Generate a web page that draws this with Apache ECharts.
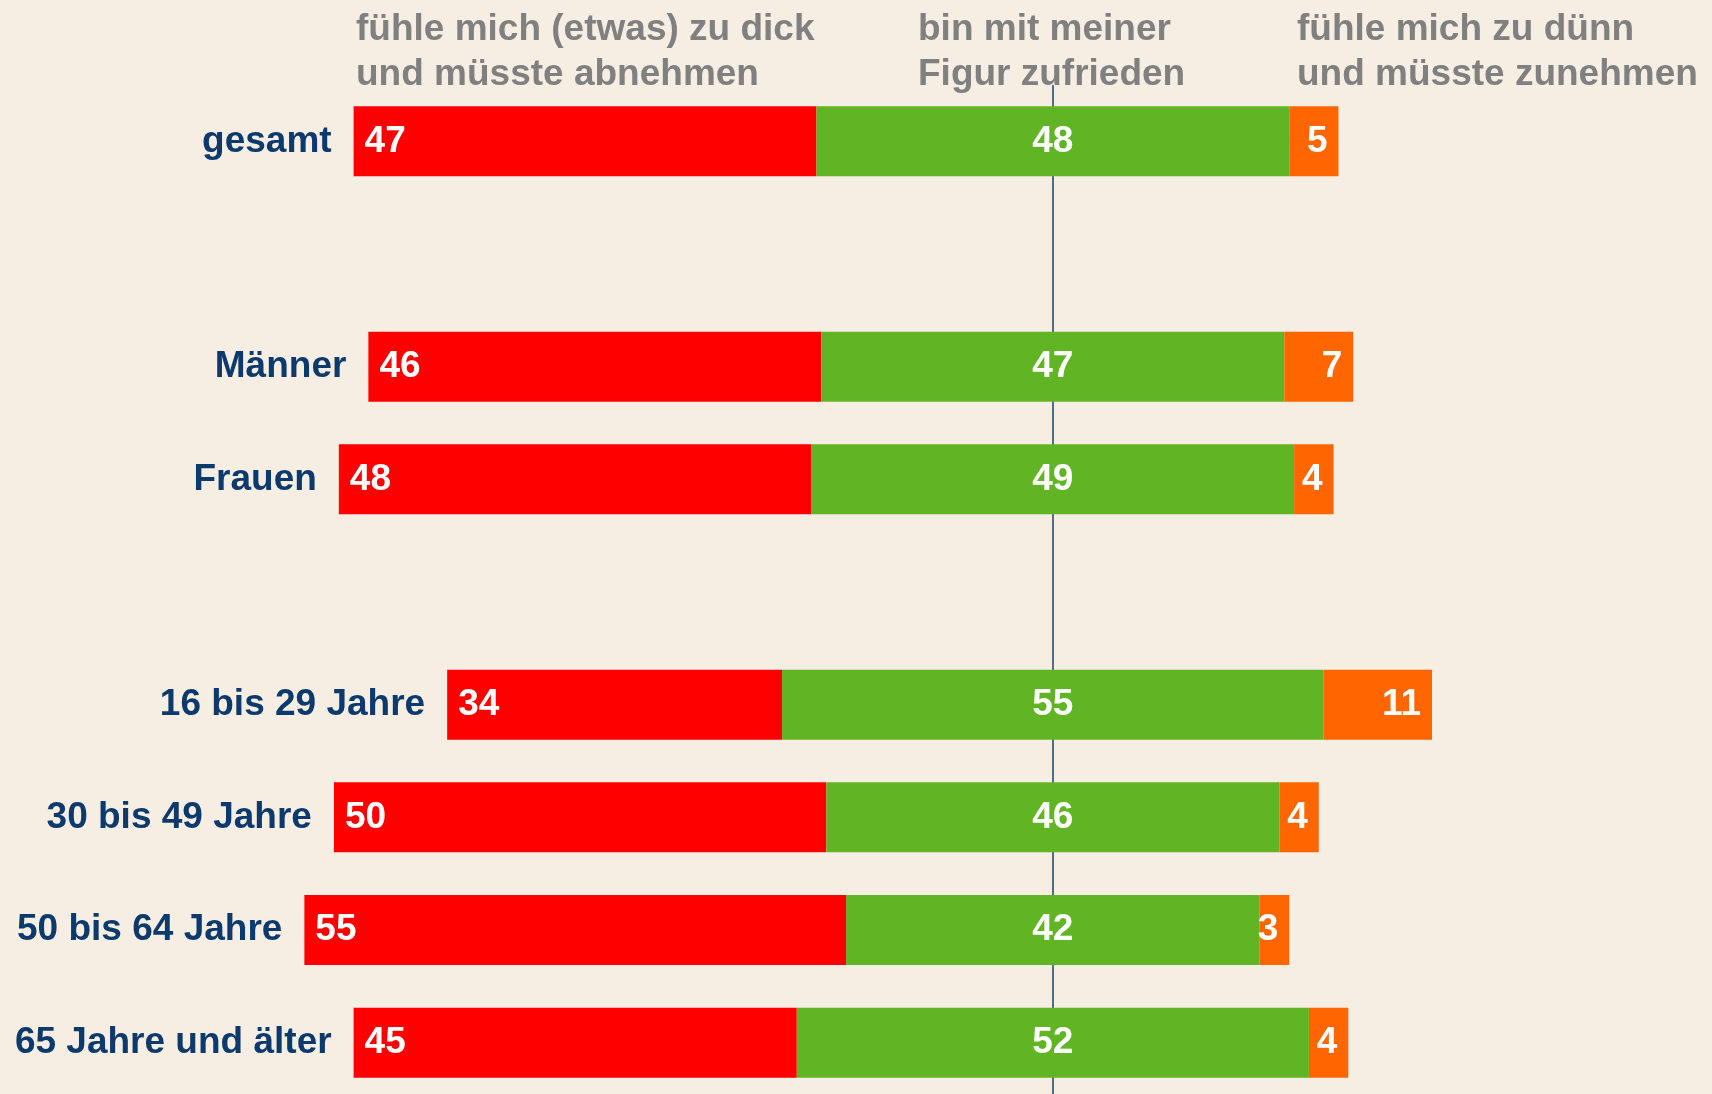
<!DOCTYPE html>
<html>
<head>
<meta charset="utf-8">
<script src="https://cdn.jsdelivr.net/npm/echarts@6/dist/echarts.min.js"></script>
<style>
html, body { margin: 0; padding: 0; background: #F6EEE3; overflow: hidden; }
#chart { width: 1712px; height: 1110px; }
</style>
</head>
<body>
<div id="chart"></div>
<script>
// Data
const categories = ['gesamt', '', 'Männer', 'Frauen', ' ', '16 bis 29 Jahre', '30 bis 49 Jahre', '50 bis 64 Jahre', '65 Jahre und älter'];
const tooFat = [47, null, 46, 48, null, 34, 50, 55, 45];
const satisfied = [48, null, 47, 49, null, 55, 46, 42, 52];
const tooThin = [5, null, 7, 4, null, 11, 4, 3, 4];
const headers = [
  'fühle mich (etwas) zu dick\nund müsste abnehmen',
  'bin mit meiner\nFigur zufrieden',
  'fühle mich zu dünn\nund müsste zunehmen'
];

const CENTER = 100; // value at which the middle of the green segment sits
const FONT = '"Liberation Sans", Arial, Helvetica, sans-serif';
const NAVY = '#0c3a6d';

const v = a => a.map(x => (x == null ? '-' : x));
const offset = tooFat.map((r, i) => (r == null ? '-' : CENTER - r - satisfied[i] / 2));

const chart = echarts.init(document.getElementById('chart'));
const valLabel = {
  show: true, color: '#ffffff', fontSize: 37, fontWeight: 'bold', fontFamily: FONT
};

chart.setOption({
  animation: false,
  backgroundColor: '#F6EEE3',
  title: [
    { text: headers[0], left: 356, top: 7 },
    { text: headers[1], left: 918, top: 7 },
    { text: headers[2], left: 1297, top: 7 }
  ].map(t => Object.assign(t, {
    padding: 0,
    textStyle: { color: '#808080', fontSize: 37, fontWeight: 'bold', lineHeight: 45, fontFamily: FONT }
  })),
  grid: { left: 68, width: 1625, top: 85, height: 1014, containLabel: false },
  xAxis: {
    type: 'value', min: 0, max: 165,
    show: false
  },
  yAxis: {
    type: 'category', data: categories, inverse: true,
    axisLine: { show: false }, axisTick: { show: false }, axisLabel: { show: false }
  },
  series: [
    {
      name: 'offset', type: 'bar', stack: 'total', barWidth: 70,
      data: offset, silent: true,
      itemStyle: { color: 'rgba(0,0,0,0)' },
      label: {
        show: true, position: 'insideRight', distance: 22,
        formatter: p => categories[p.dataIndex],
        color: NAVY, fontSize: 37, fontWeight: 'bold', fontFamily: FONT
      },
      markLine: {
        silent: true, symbol: 'none', z: 1,
        label: { show: false },
        lineStyle: { color: '#1b3f6a', width: 1.5, type: 'solid' },
        data: [{ xAxis: CENTER }]
      }
    },
    {
      name: 'zu dick', type: 'bar', stack: 'total', barWidth: 70,
      data: v(tooFat), itemStyle: { color: '#FF0000' },
      label: Object.assign({ position: 'insideLeft', distance: 11 }, valLabel)
    },
    {
      name: 'zufrieden', type: 'bar', stack: 'total', barWidth: 70,
      data: v(satisfied), itemStyle: { color: '#61B525' },
      label: Object.assign({ position: 'inside' }, valLabel)
    },
    {
      name: 'zu dünn', type: 'bar', stack: 'total', barWidth: 70,
      data: v(tooThin), itemStyle: { color: '#FF6600' },
      label: Object.assign({ position: 'insideRight', distance: 11 }, valLabel)
    }
  ]
});
</script>
</body>
</html>
